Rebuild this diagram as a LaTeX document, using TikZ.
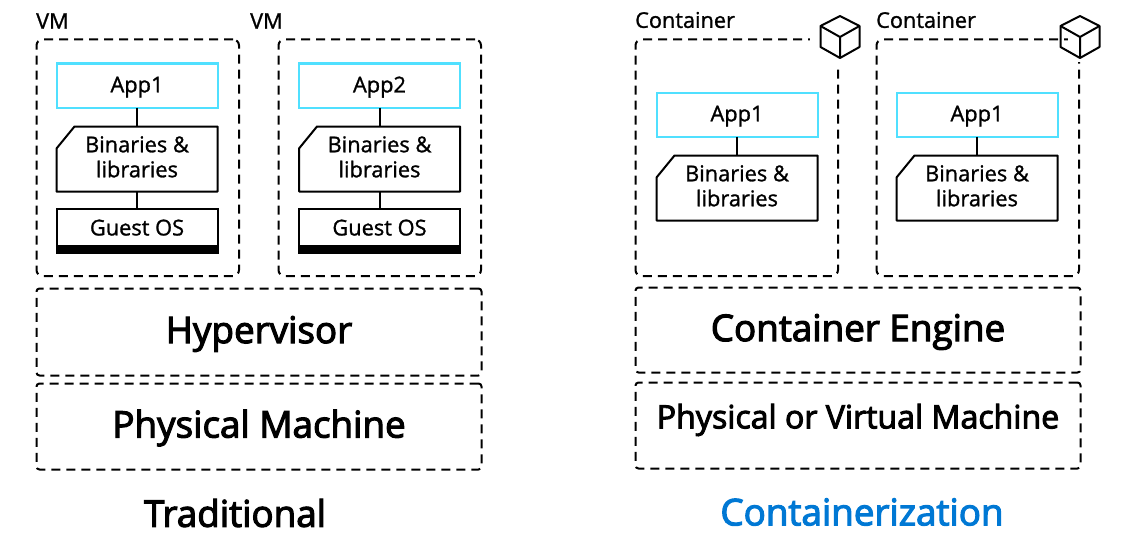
\documentclass[tikz,border=0pt]{standalone}
\usepackage{fontspec}
\setmainfont{Open Sans}
\newfontfamily\mediumfont[FakeBold=1.2]{Open Sans}
\newfontfamily\heavyfont[FakeBold=3]{Open Sans}
\usetikzlibrary{positioning}
\definecolor{appblue}{HTML}{50E0FF}
\definecolor{titleblue}{HTML}{0078D4}
\tikzset{
  dashbox/.style = {rectangle, draw=black, line width=2pt, dash pattern=on 9pt off 6pt, outer sep=0pt, inner sep=0pt, anchor=north west},
  vmbox/.style = {dashbox, rounded corners=6pt, minimum width=202.5pt, minimum height=236.5pt},
  layerbox/.style = {dashbox, rounded corners=3pt, minimum height=86pt},
  appbox/.style = {rectangle, draw=appblue, line width=2pt, outer sep=0pt, inner sep=0pt, minimum width=161pt, minimum height=44pt, text depth=2pt, font=\mediumfont\fontsize{21.8}{25}\selectfont},
  binbox/.style = {rectangle, outer sep=0pt, inner sep=0pt, minimum width=161pt, minimum height=65pt, align=center, text depth=4.5pt, font=\mediumfont\fontsize{21.8}{25}\selectfont,
    append after command={\pgfextra{\draw[line width=2pt, line join=round] ([xshift=18pt]\tikzlastnode.north west) -- (\tikzlastnode.north east) -- (\tikzlastnode.south east) -- (\tikzlastnode.south west) -- ([yshift=-22pt]\tikzlastnode.north west) -- cycle;}}},
  osbox/.style = {rectangle, draw=black, line width=2pt, outer sep=0pt, inner sep=0pt, minimum width=161pt, minimum height=44pt, font=\mediumfont\fontsize{21.8}{25}\selectfont,
    path picture={\fill[black] ([yshift=8pt]path picture bounding box.south west) rectangle (path picture bounding box.south east);}},
  tag/.style = {anchor=west, inner sep=0pt, font=\mediumfont\fontsize{21.7}{25}\selectfont},
  bigtext/.style = {inner sep=0pt, font=\heavyfont\fontsize{36.8}{42}\selectfont},
  link/.style = {line width=2pt},
  cubeicon/.pic = {
    \draw[line width=2pt, line join=round] (0,-21) -- (19.5,-11) -- (19.5,10) -- (0,21) -- (-19.5,10) -- (-19.5,-11) -- cycle;
    \draw[line width=2pt, line join=round] (-19.5,-11) -- (0,0) -- (19.5,-11) (0,0) -- (0,21);
  }
}

\begin{document}
\begin{tikzpicture}[x=1pt, y=-1pt]
  \useasboundingbox (0,0) rectangle (1126,551);

  % Traditional side
  \node (vmA) [vmbox] at (36.5,39.5) {};
  \node (vmB) [vmbox] at (278.5,39.5) {};
  \node (vmAtag) [tag] at (36,21) {VM};
  \node (vmBtag) [tag] at (250,21) {VM};

  \node (appA) [appbox] at (137,85.5) {App1};
  \node (binA) [binbox, below=19pt of appA] {Binaries \&\\libraries};
  \node (osA) [osbox, below=17pt of binA] {\raisebox{6pt}{Guest OS}};

  \node (appB) [appbox] at (379.5,85.5) {App2};
  \node (binB) [binbox, below=19pt of appB] {Binaries \&\\libraries};
  \node (osB) [osbox, below=17pt of binB] {\raisebox{6pt}{Guest OS}};

  \node (hyper) [layerbox, minimum width=445pt, minimum height=87pt] at (36.5,288.5) {};
  \node (phys) [layerbox, minimum width=445pt] at (36.5,383.5) {};
  \node (hyperText) [bigtext] at (259,334) {Hypervisor};
  \node (physText) [bigtext] at (259,428) {Physical Machine};
  \node (tradTitle) [bigtext] at (235,513) {Traditional};

  % Containerization side
  \node (ctA) [vmbox] at (635.5,39.5) {};
  \node (ctB) [vmbox] at (876.5,39.5) {};
  \node (ctAtag) [tag] at (635,20) {Container};
  \node (ctBtag) [tag] at (876,20) {Container};

  \node (appC) [appbox] at (737,114.5) {App1};
  \node (binC) [binbox, below=19pt of appC] {Binaries \&\\libraries};
  \node (appD) [appbox] at (977,114.5) {App1};
  \node (binD) [binbox, below=19pt of appD] {Binaries \&\\libraries};

  \node (engine) [layerbox, minimum width=445pt, minimum height=85pt] at (635.5,287.5) {};
  \node (physvirt) [layerbox, minimum width=445pt] at (635.5,382.5) {};
  \node (engineText) [bigtext] at (858,332) {Container Engine};
  \node (physvirtText) [bigtext, font=\heavyfont\fontsize{32.1}{38}\selectfont] at (858,420) {Physical or Virtual Machine};
  \node (contTitle) [bigtext, text=titleblue] at (862,512) {Containerization};

  % Cube icons, the box outline stops at them
  \fill[white] (810,28) rectangle (862,66);
  \fill[white] (1068,28) rectangle (1084,62);
  \pic at (840,37) {cubeicon};
  \pic at (1080,37) {cubeicon};

  % Draw connections
  \draw[link] (appA) -- (binA);
  \draw[link] (binA) -- (osA);
  \draw[link] (appB) -- (binB);
  \draw[link] (binB) -- (osB);
  \draw[link] (appC) -- (binC);
  \draw[link] (appD) -- (binD);

\end{tikzpicture}
\end{document}
